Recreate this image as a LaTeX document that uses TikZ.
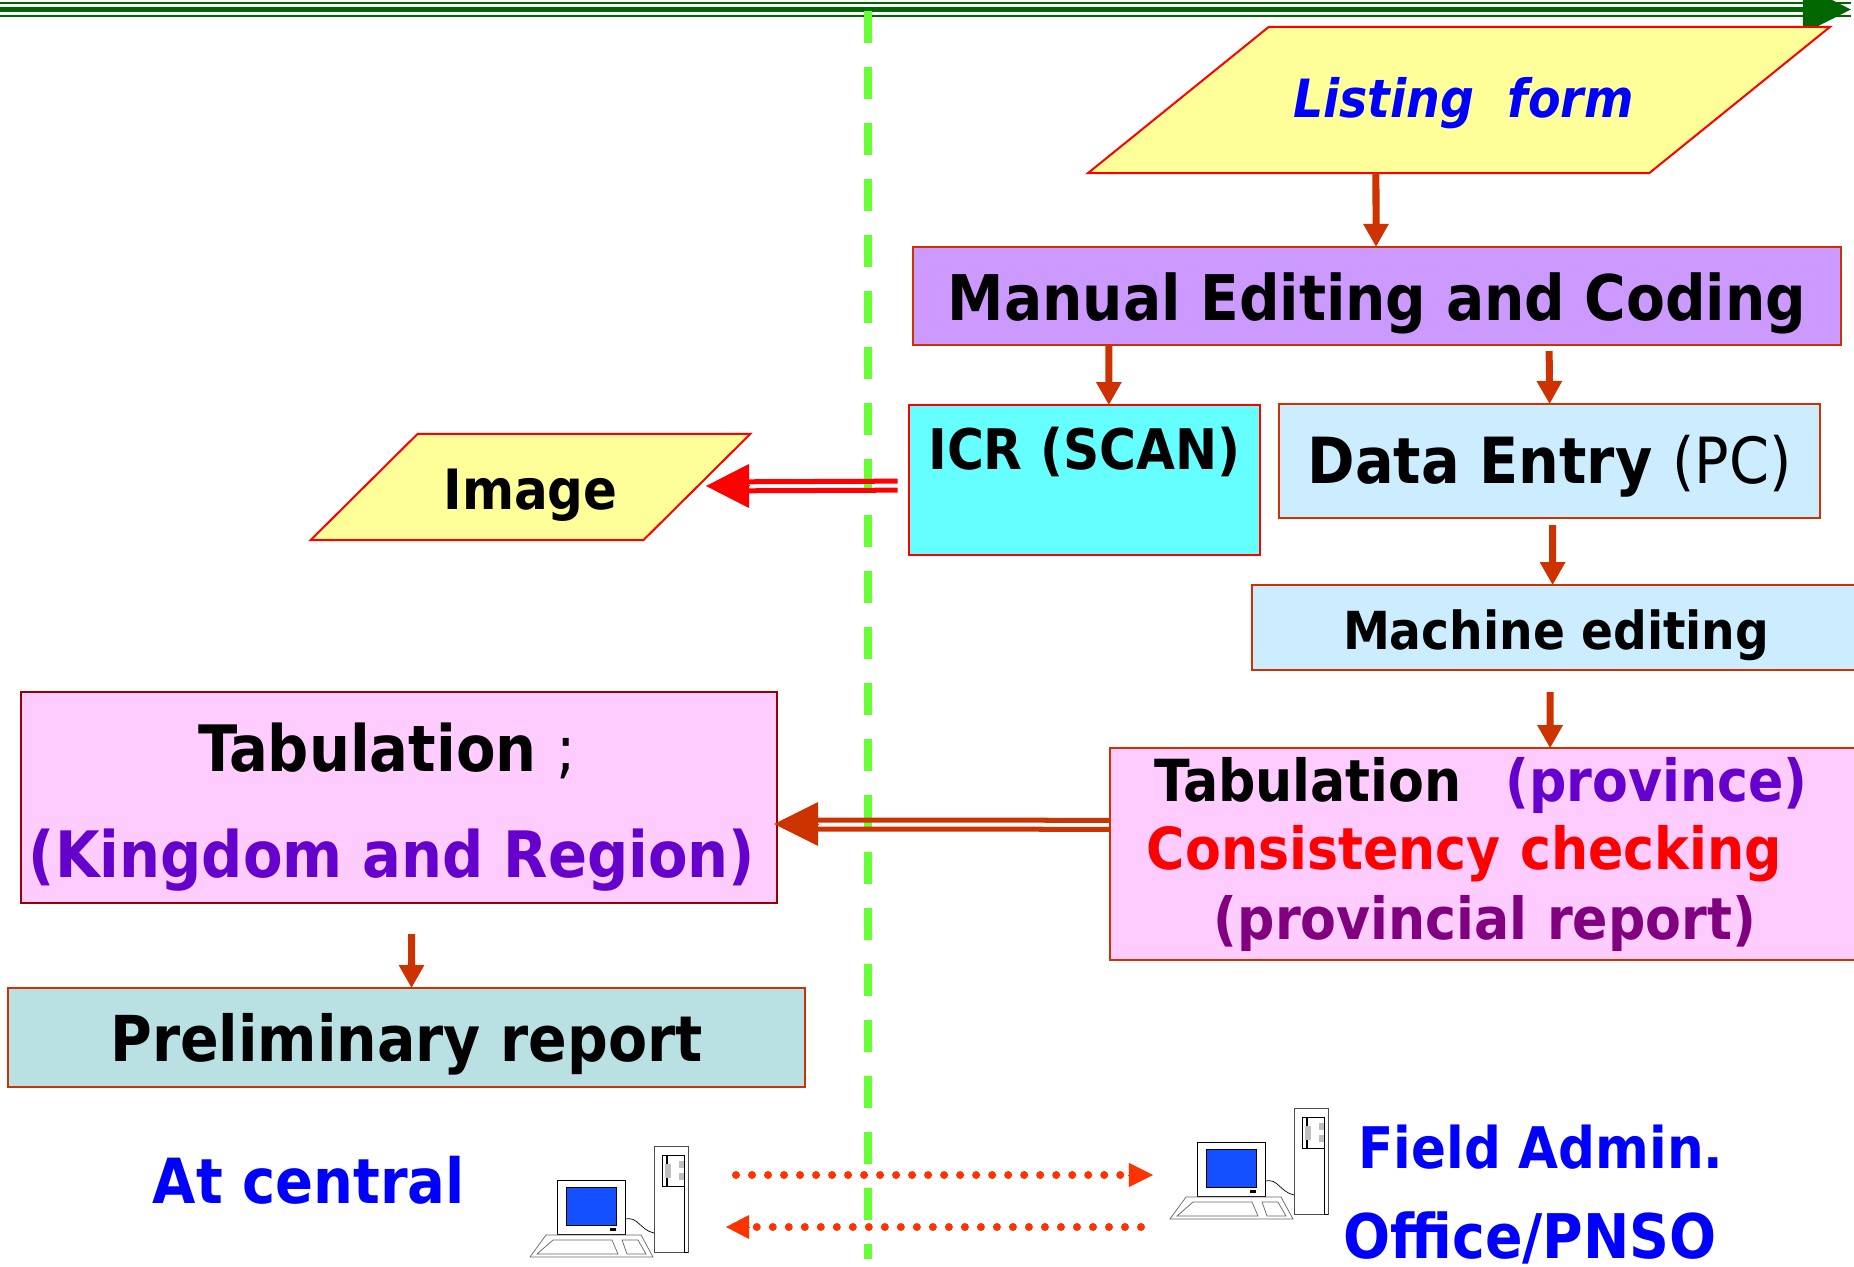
\documentclass[tikz,border=0pt]{standalone}
\usepackage{fontspec}
\setmainfont{DejaVu Sans Condensed}
\usepackage{xcolor}
\usetikzlibrary{arrows.meta,positioning,shapes.geometric}
\definecolor{axisgreen}{HTML}{006600}
\definecolor{dashgreen}{HTML}{66FF33}
\definecolor{flowred}{HTML}{CC3300}
\definecolor{dotred}{HTML}{FF3300}
\definecolor{formyellow}{HTML}{FFFF99}
\definecolor{editviolet}{HTML}{CC99FF}
\definecolor{scancyan}{HTML}{66FFFF}
\definecolor{entryblue}{HTML}{CCECFF}
\definecolor{tabpink}{HTML}{FFCCFF}
\definecolor{reportteal}{HTML}{B9E0E3}
\definecolor{titlepurple}{HTML}{6600CC}
\definecolor{provpurple}{HTML}{800080}
\definecolor{screenblue}{HTML}{1450FF}
\newcommand{\bfs}[1]{\fontsize{#1}{#1}\selectfont\bfseries}
\tikzset{pcicon/.pic={
	\draw[fill=white, line width=0.007cm, draw=black!70] (0,0) rectangle (34,106);
	\draw[line width=0.007cm] (30,9) -- (30,106) -- (34,106);
	\draw[line width=0.007cm] (8.5,9) rectangle (30,40);
	\draw (13,9) -- (13,40);
	\fill[black!25] (11,18) rectangle (16.5,32);
	\fill[black!25] (24.5,15) rectangle (30,22);
	\fill[black!25] (24.5,27) rectangle (30,34);
	\draw[line width=0.007cm] (-29,73) .. controls (-16,70) and (-14,84) .. (0,87);
	\draw[fill=white, line width=0.007cm] (-97,34) rectangle (-29,88);
	\fill[screenblue] (-87.5,41) rectangle (-38,79);
	\draw[line width=0.007cm] (-87.5,41) rectangle (-38,79);
	\fill[black] (-44,82) rectangle (-38,85);
	\draw[fill=white, line width=0.007cm, draw=black!60] (-108,89) -- (-13,89) -- (-1,111) -- (-124,111) -- cycle;
	\draw[line width=0.007cm, draw=black!60] (-101,94) -- (-42,94) -- (-36,108) -- (-117,108) -- cycle;
	\draw[line width=0.007cm, draw=black!60] (-32,94) -- (-16,94) -- (-8,108) -- (-27,108) -- cycle;
}}
\begin{document}
\begin{tikzpicture}[x=0.01cm, y=-0.01cm, node distance=0.8cm]
	\tikzstyle{box}
	  =[draw=flowred, rectangle, line width=0.02cm, outer sep=0pt,
	  inner sep=0pt, align=center]
	\tikzstyle{slant}
	  =[draw=red, fill=formyellow, trapezium, line width=0.02cm, outer sep=0pt,
	  inner sep=0pt, trapezium stretches=true]
	\tikzstyle{flow}
	  =[draw=flowred, line width=0.07cm, -{Triangle[length=0.23cm, width=0.24cm]}]
	\tikzstyle{bar}
	  =[line width=0.05cm]
	\tikzstyle{dots}
	  =[draw=dotred, line width=0.08cm, line cap=round, dash pattern=on 0pt off 0.16cm]
	\tikzstyle{place}
	  =[text=blue, inner sep=0pt]

	\useasboundingbox (0,0) rectangle (1854,1267);

	% time axis along the top edge
	\coordinate (axis start) at (0,9.5);
	\coordinate (axis end) at (1851,9.5);
	\draw[axisgreen, line width=0.02cm] ([yshift=0.068cm]axis start)--([yshift=0.068cm]axis end);
	\draw[axisgreen, line width=0.02cm] ([yshift=-0.068cm]axis start)--([yshift=-0.068cm]axis end);
	\draw[axisgreen, line width=0.05cm, -{Triangle[length=0.48cm, width=0.47cm]}] (axis start)--(axis end);

	% central / field divide
	\coordinate (divide top) at (868,11);
	\coordinate (divide end) at (868,1259);
	\draw[dashgreen, line width=0.08cm, dash pattern=on 0.32cm off 0.24cm] (divide top)--(divide end);

	\node[slant, trapezium left angle=19.4, trapezium right angle=160.6,
	  minimum width=7.42cm, minimum height=1.46cm, font=\bfs{15}\itshape, text=blue] (form) at (1459,100)
	  {\rule{0pt}{0.47cm}\hspace*{0.09cm}Listing\ \ form};
	\node[box, fill=editviolet, minimum width=9.28cm, minimum height=0.98cm, font=\bfs{17.9}] (manual)
	  at (1377,296) {\rule{0pt}{0.62cm}Manual Editing and Coding};

	\node[box, fill=scancyan, draw=red, minimum width=3.51cm, minimum height=1.5cm, font=\bfs{15.9}] (icr)
	  [below right=0.6cm and -0.04cm of manual.south west]
	  {ICR (SCAN)\\[0.08cm]\mbox{}};
	\node[box, fill=entryblue, minimum width=5.41cm, minimum height=1.14cm, font=\bfs{18.1}] (entry)
	  [below left=0.59cm and 0.21cm of manual.south east]
	  {\rule{0pt}{0.58cm}Data Entry \mdseries(PC)};
	\node[box, fill=entryblue, minimum width=6.08cm, minimum height=0.85cm, font=\bfs{14.9}] (machine)
	  [below right=0.67cm and -0.27cm of entry.south west]
	  {\rule{0pt}{0.54cm}Machine editing};
	\node[box, fill=tabpink, minimum width=7.5cm, minimum height=2.12cm, text width=7.5cm, align=left, font=\bfs{16.5}] (province)
	  [below left=0.78cm and 0cm of machine.south east]
	  {\hspace*{0.45cm}Tabulation\ \ \hspace*{0.05cm}\textcolor{titlepurple}{(province)}\\[0.1cm]
	  \hspace*{0.37cm}\textcolor{red}{Consistency checking}\\[0.12cm]
	  \hspace*{1.04cm}\textcolor{provpurple}{(provincial report)}};

	\node[slant, trapezium left angle=40, trapezium right angle=140,
	  minimum width=4.43cm, minimum height=1.06cm, font=\bfs{15.8}] (image) at (530.5,487)
	  {\rule{0pt}{0.57cm}Image};
	\node[box, fill=tabpink, draw=red!60!black, minimum width=7.56cm, minimum height=2.11cm, font=\bfs{18.2}] (kingdom)
	  at (399,797.5)
	  {\rule{0pt}{0.68cm}Tabulation \mdseries;\hspace*{0.24cm}\\[0.42cm]
	  \textcolor{titlepurple}{(Kingdom and Region)}\hspace*{0.14cm}};
	\node[box, fill=reportteal, minimum width=7.97cm, minimum height=0.99cm, font=\bfs{18}] (report)
	  [below right=0.85cm and -0.13cm of kingdom.south west]
	  {\rule{0pt}{0.62cm}Preliminary report};

	\node[place, font=\bfs{17.7}] (central) at (309,1180) {At central};
	\node[place, font=\bfs{16.3}] (admin) at (1541,1147) {Field Admin.};
	\node[place, font=\bfs{17.5}] (pnso) at (1530,1238) {Office/PNSO};

	\pic (pc central) at (654,1146) {pcicon};
	\pic (pc field) at (1294,1108) {pcicon};

	\draw[flow] ([xshift=-0.83cm]form.south)--([xshift=-0.01cm]manual.north);
	\draw[flow] ([xshift=-2.68cm]manual.south)--([xshift=0.245cm]icr.north);
	\draw[flow, shorten <=0.06cm] ([xshift=1.72cm]manual.south)--(entry.north);
	\draw[flow, shorten <=0.07cm] ([xshift=0.03cm]entry.south)--([xshift=-0.035cm]machine.north);
	\draw[flow, shorten <=0.22cm] ([xshift=-0.06cm]machine.south)--([xshift=0.65cm]province.north);
	\draw[flow, shorten <=0.31cm] ([xshift=0.125cm]kingdom.south)--([xshift=0.05cm]report.north);

	\draw[red, bar, shorten <=0.11cm, shorten >=0.45cm] ([yshift=-0.01cm]icr.west)--([yshift=0.05cm]image.east);
	\draw[red, bar, shorten <=0.11cm, shorten >=0.45cm] ([yshift=-0.1cm]icr.west)--([yshift=-0.04cm]image.east);
	\coordinate (image head) at (749,486);
	\coordinate (image tip) at (706,486);
	\draw[red, line width=0pt, -{Triangle[length=0.43cm, width=0.44cm]}] (image head)--(image tip);

	\draw[flowred, bar, shorten >=0.4cm] ([yshift=0.34cm]province.west)--([yshift=-0.225cm]kingdom.east);
	\draw[flowred, bar, shorten >=0.4cm] ([yshift=0.25cm]province.west)--([yshift=-0.315cm]kingdom.east);
	\coordinate (kingdom head) at (818,824);
	\coordinate (kingdom tip) at (774,824);
	\draw[flowred, line width=0pt, -{Triangle[length=0.44cm, width=0.44cm]}] (kingdom head)--(kingdom tip);

	\coordinate (send start) at (736,1175);
	\coordinate (send end) at (1125,1175);
	\coordinate (send head) at (1129,1175);
	\coordinate (send tip) at (1153,1175);
	\draw[dots] (send start)--(send end);
	\draw[dotred, line width=0pt, -{Triangle[length=0.24cm, width=0.24cm]}] (send head)--(send tip);
	\coordinate (back start) at (1141,1227);
	\coordinate (back end) at (755,1227);
	\coordinate (back head) at (749,1227);
	\coordinate (back tip) at (726,1227);
	\draw[dots] (back start)--(back end);
	\draw[dotred, line width=0pt, -{Triangle[length=0.23cm, width=0.24cm]}] (back head)--(back tip);
\end{tikzpicture}
\end{document}
